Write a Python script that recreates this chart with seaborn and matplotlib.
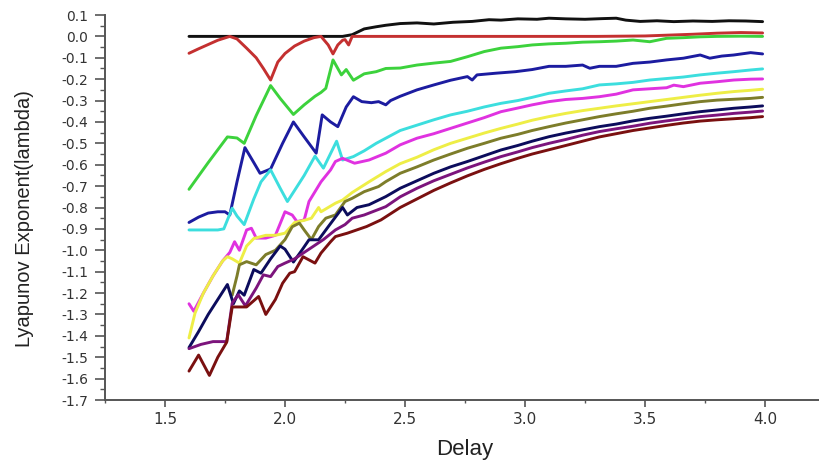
import numpy as np
import pandas as pd
import seaborn as sns
import matplotlib.pyplot as plt
from matplotlib.ticker import MultipleLocator

# Lyapunov exponent vs delay, one curve per parameter setting
black_x = [1.60, 2.00, 2.24, 2.28, 2.33, 2.38, 2.42, 2.48, 2.55, 2.62, 2.70, 2.78, 2.85, 2.90, 2.97, 3.05,
           3.10, 3.17, 3.25, 3.32, 3.38, 3.42, 3.48, 3.55, 3.62, 3.70, 3.78, 3.85, 3.92, 3.99]
black_y = [0.0, 0.0, 0.0, 0.008, 0.035, 0.045, 0.052, 0.060, 0.063, 0.058, 0.066, 0.070, 0.078, 0.076, 0.082, 0.080,
           0.085, 0.082, 0.080, 0.083, 0.085, 0.076, 0.070, 0.073, 0.069, 0.072, 0.070, 0.073, 0.072, 0.069]

red_x = [1.60, 1.64, 1.68, 1.72, 1.77, 1.80, 1.84, 1.88, 1.91, 1.94, 1.97, 2.00, 2.04, 2.08, 2.12, 2.15, 2.18,
         2.20, 2.22, 2.24, 2.25, 2.265, 2.28, 2.50, 3.00, 3.30, 3.50, 3.60, 3.70, 3.80, 3.90, 3.99]
red_y = [-0.079, -0.058, -0.038, -0.018, 0.0, -0.012, -0.055, -0.10, -0.15, -0.204, -0.12, -0.08, -0.045, -0.022,
         -0.006, 0.0, -0.04, -0.082, -0.04, -0.018, -0.015, -0.04, 0.0, 0.0, 0.0, 0.0, 0.002, 0.006, 0.01, 0.015,
         0.018, 0.016]

green_x = [1.60, 1.68, 1.76, 1.80, 1.83, 1.88, 1.94, 1.98, 2.035, 2.08, 2.125, 2.15, 2.17, 2.20, 2.235, 2.255,
           2.285, 2.33, 2.38, 2.42, 2.48, 2.55, 2.62, 2.69, 2.76, 2.83, 2.90, 2.97, 3.03, 3.10, 3.17, 3.24, 3.31,
           3.38, 3.45, 3.52, 3.59, 3.66, 3.73, 3.80, 3.90, 3.99]
green_y = [-0.715, -0.59, -0.47, -0.475, -0.50, -0.37, -0.23, -0.29, -0.365, -0.32, -0.28, -0.262, -0.243, -0.11,
           -0.18, -0.155, -0.205, -0.175, -0.165, -0.15, -0.148, -0.134, -0.125, -0.117, -0.095, -0.071, -0.055,
           -0.048, -0.04, -0.035, -0.032, -0.027, -0.025, -0.022, -0.017, -0.025, -0.009, -0.006, -0.002, 0.0,
           0.001, 0.0]

blue_x = [1.60, 1.64, 1.68, 1.72, 1.75, 1.77, 1.80, 1.833, 1.87, 1.896, 1.94, 1.99, 2.035, 2.08, 2.13, 2.155,
          2.19, 2.22, 2.255, 2.285, 2.32, 2.36, 2.39, 2.42, 2.44, 2.48, 2.55, 2.62, 2.69, 2.76, 2.78, 2.80, 2.88,
          2.96, 3.03, 3.10, 3.17, 3.24, 3.27, 3.31, 3.38, 3.45, 3.52, 3.59, 3.66, 3.73, 3.77, 3.82, 3.87, 3.94, 3.99]
blue_y = [-0.87, -0.845, -0.826, -0.82, -0.82, -0.835, -0.68, -0.52, -0.59, -0.64, -0.62, -0.50, -0.40, -0.47,
          -0.546, -0.367, -0.40, -0.422, -0.33, -0.282, -0.305, -0.31, -0.305, -0.32, -0.30, -0.28, -0.25, -0.227,
          -0.205, -0.188, -0.204, -0.18, -0.172, -0.165, -0.155, -0.14, -0.14, -0.134, -0.149, -0.14, -0.14,
          -0.126, -0.12, -0.11, -0.102, -0.087, -0.102, -0.092, -0.087, -0.076, -0.082]

cyan_x = [1.60, 1.66, 1.72, 1.745, 1.78, 1.80, 1.83, 1.87, 1.90, 1.94, 1.98, 2.01, 2.04, 2.08, 2.125, 2.16,
          2.215, 2.24, 2.285, 2.33, 2.38, 2.42, 2.48, 2.55, 2.62, 2.69, 2.76, 2.83, 2.90, 2.97, 3.03, 3.10, 3.17,
          3.24, 3.31, 3.38, 3.45, 3.52, 3.59, 3.66, 3.73, 3.80, 3.87, 3.94, 3.99]
cyan_y = [-0.905, -0.905, -0.905, -0.90, -0.803, -0.84, -0.88, -0.76, -0.68, -0.624, -0.71, -0.772, -0.72, -0.65,
          -0.56, -0.616, -0.49, -0.578, -0.562, -0.535, -0.50, -0.476, -0.44, -0.415, -0.39, -0.367, -0.35, -0.33,
          -0.313, -0.30, -0.285, -0.266, -0.255, -0.245, -0.227, -0.222, -0.215, -0.204, -0.197, -0.19, -0.18,
          -0.172, -0.165, -0.157, -0.152]

magenta_x = [1.60, 1.62, 1.66, 1.70, 1.74, 1.77, 1.79, 1.81, 1.84, 1.86, 1.88, 1.92, 1.96, 2.00, 2.03, 2.05,
             2.08, 2.10, 2.15, 2.19, 2.21, 2.24, 2.29, 2.35, 2.42, 2.48, 2.55, 2.62, 2.69, 2.76, 2.83, 2.90, 2.97,
             3.03, 3.10, 3.17, 3.24, 3.31, 3.38, 3.45, 3.52, 3.59, 3.62, 3.66, 3.73, 3.80, 3.87, 3.94, 3.99]
magenta_y = [-1.25, -1.285, -1.2, -1.12, -1.05, -1.01, -0.96, -1.0, -0.905, -0.897, -0.943, -0.943, -0.93, -0.82,
             -0.835, -0.866, -0.858, -0.772, -0.68, -0.624, -0.585, -0.57, -0.593, -0.578, -0.546, -0.507, -0.476,
             -0.455, -0.43, -0.405, -0.38, -0.352, -0.335, -0.32, -0.305, -0.295, -0.29, -0.282, -0.27, -0.25,
             -0.245, -0.24, -0.228, -0.235, -0.219, -0.212, -0.204, -0.2, -0.199]

yellow_x = [1.60, 1.625, 1.66, 1.70, 1.74, 1.76, 1.78, 1.81, 1.84, 1.87, 1.92, 1.96, 2.00, 2.04, 2.08, 2.11,
            2.14, 2.15, 2.18, 2.21, 2.24, 2.28, 2.35, 2.42, 2.48, 2.55, 2.62, 2.69, 2.76, 2.83, 2.90, 2.97, 3.03,
            3.10, 3.17, 3.24, 3.31, 3.38, 3.45, 3.52, 3.59, 3.66, 3.73, 3.80, 3.87, 3.94, 3.99]
yellow_y = [-1.41, -1.294, -1.2, -1.12, -1.05, -1.03, -1.04, -1.06, -0.98, -0.945, -0.93, -0.93, -0.92, -0.87,
            -0.86, -0.85, -0.80, -0.82, -0.80, -0.78, -0.765, -0.73, -0.68, -0.632, -0.595, -0.565, -0.53, -0.50,
            -0.476, -0.452, -0.43, -0.41, -0.392, -0.375, -0.36, -0.347, -0.336, -0.325, -0.315, -0.305, -0.295,
            -0.285, -0.275, -0.266, -0.258, -0.252, -0.247]

olive_x = [1.78, 1.80, 1.81, 1.84, 1.88, 1.92, 1.96, 2.00, 2.03, 2.06, 2.08, 2.11, 2.14, 2.17, 2.21, 2.25, 2.28,
           2.33, 2.39, 2.42, 2.48, 2.55, 2.62, 2.69, 2.76, 2.83, 2.90, 2.97, 3.03, 3.10, 3.17, 3.24, 3.31, 3.38,
           3.45, 3.52, 3.59, 3.66, 3.73, 3.80, 3.87, 3.94, 3.99]
olive_y = [-1.21, -1.12, -1.068, -1.053, -1.068, -1.02, -1.0, -0.95, -0.89, -0.873, -0.905, -0.95, -0.889, -0.85,
           -0.835, -0.772, -0.757, -0.726, -0.702, -0.679, -0.64, -0.61, -0.578, -0.55, -0.523, -0.50, -0.476,
           -0.458, -0.44, -0.422, -0.405, -0.39, -0.375, -0.362, -0.35, -0.336, -0.326, -0.315, -0.305, -0.298,
           -0.294, -0.29, -0.285]

navy_x = [1.60, 1.64, 1.68, 1.72, 1.76, 1.785, 1.81, 1.83, 1.87, 1.90, 1.94, 1.98, 2.00, 2.035, 2.07, 2.10,
          2.14, 2.18, 2.24, 2.26, 2.30, 2.35, 2.42, 2.48, 2.55, 2.62, 2.69, 2.76, 2.83, 2.90, 2.97, 3.03, 3.10,
          3.17, 3.24, 3.31, 3.38, 3.45, 3.52, 3.59, 3.66, 3.73, 3.80, 3.87, 3.94, 3.99]
navy_y = [-1.455, -1.38, -1.3, -1.23, -1.16, -1.25, -1.19, -1.21, -1.09, -1.107, -1.04, -0.98, -0.995, -1.055,
          -1.0, -0.951, -0.951, -0.89, -0.80, -0.835, -0.80, -0.787, -0.749, -0.71, -0.675, -0.64, -0.61, -0.585,
          -0.558, -0.531, -0.51, -0.49, -0.469, -0.452, -0.437, -0.422, -0.41, -0.395, -0.383, -0.373, -0.362,
          -0.352, -0.344, -0.336, -0.33, -0.325]

purple_x = [1.60, 1.65, 1.70, 1.757, 1.78, 1.805, 1.835, 1.88, 1.91, 1.94, 1.97, 2.00, 2.04, 2.08, 2.12, 2.16,
            2.21, 2.25, 2.28, 2.33, 2.42, 2.48, 2.55, 2.62, 2.69, 2.76, 2.83, 2.90, 2.97, 3.03, 3.10, 3.17, 3.24,
            3.31, 3.38, 3.45, 3.52, 3.59, 3.66, 3.73, 3.80, 3.87, 3.94, 3.99]
purple_y = [-1.46, -1.44, -1.427, -1.427, -1.247, -1.208, -1.26, -1.177, -1.115, -1.123, -1.076, -1.06, -1.04,
            -1.01, -0.98, -0.95, -0.905, -0.88, -0.85, -0.835, -0.796, -0.75, -0.71, -0.675, -0.645, -0.615,
            -0.588, -0.562, -0.54, -0.52, -0.50, -0.482, -0.462, -0.445, -0.432, -0.42, -0.406, -0.395, -0.385,
            -0.375, -0.368, -0.36, -0.354, -0.349]

wine_x = [1.60, 1.64, 1.685, 1.72, 1.757, 1.78, 1.84, 1.89, 1.92, 1.96, 1.99, 2.02, 2.04, 2.075, 2.125, 2.15,
          2.19, 2.21, 2.26, 2.34, 2.40, 2.48, 2.55, 2.62, 2.69, 2.76, 2.83, 2.90, 2.97, 3.03, 3.10, 3.17, 3.24,
          3.31, 3.38, 3.45, 3.52, 3.59, 3.66, 3.73, 3.80, 3.87, 3.94, 3.99]
wine_y = [-1.565, -1.49, -1.585, -1.50, -1.43, -1.265, -1.265, -1.216, -1.30, -1.23, -1.154, -1.107, -1.10,
          -1.03, -1.06, -1.013, -0.96, -0.936, -0.92, -0.889, -0.858, -0.80, -0.76, -0.72, -0.685, -0.652, -0.622,
          -0.595, -0.57, -0.55, -0.53, -0.51, -0.49, -0.47, -0.455, -0.44, -0.428, -0.416, -0.405, -0.396, -0.39,
          -0.385, -0.38, -0.375]

series = {
    "black": (black_x, black_y), "red": (red_x, red_y), "green": (green_x, green_y),
    "blue": (blue_x, blue_y), "cyan": (cyan_x, cyan_y), "magenta": (magenta_x, magenta_y),
    "yellow": (yellow_x, yellow_y), "olive": (olive_x, olive_y), "navy": (navy_x, navy_y),
    "purple": (purple_x, purple_y), "wine": (wine_x, wine_y),
}
colors = {
    "black": "#111111", "red": "#c43030", "green": "#3cd23c", "blue": "#1c1ca0", "cyan": "#3cdede",
    "magenta": "#e032e0", "yellow": "#eeee46", "olive": "#7d7d2a", "navy": "#0c0c5c",
    "purple": "#7c147c", "wine": "#7a1010",
}

frames = []
for name, (xs, ys) in series.items():
    frames.append(pd.DataFrame({"Delay": xs, "lambda": ys, "curve": name}))
df = pd.concat(frames, ignore_index=True)

sns.set_theme(style="ticks")
plt.rcParams["font.family"] = ["DejaVu Sans"]
plt.rcParams["axes.unicode_minus"] = False

fig = plt.figure(figsize=(8.19, 4.62), dpi=100)
ax = fig.add_axes([105 / 819, 62 / 462, 714 / 819, 385 / 462])

sns.lineplot(data=df, x="Delay", y="lambda", hue="curve", palette=colors, hue_order=list(series),
             estimator=None, sort=False, linewidth=2.1, legend=False, ax=ax)


def fmt(v, pos):
    v = round(v, 2)
    if v == 0:
        v = 0.0
    return f"{v:.1f}"


ax.set_xlim(1.25, 1.25 + 714 / 240)
ax.set_ylim(-1.7, 0.1)
ax.xaxis.set_major_locator(MultipleLocator(0.5))
ax.xaxis.set_minor_locator(MultipleLocator(0.25))
ax.yaxis.set_major_locator(MultipleLocator(0.1))
ax.yaxis.set_minor_locator(MultipleLocator(0.05))
ax.xaxis.set_major_formatter(plt.FuncFormatter(fmt))
ax.yaxis.set_major_formatter(plt.FuncFormatter(fmt))

sns.despine(ax=ax)
for s in ["left", "bottom"]:
    ax.spines[s].set_color("#555555")
    ax.spines[s].set_linewidth(1.4)
ax.tick_params(axis="y", which="major", length=7, width=1.2, color="#555555", labelsize=10,
               labelcolor="#333333", pad=5)
ax.tick_params(axis="y", which="minor", length=3.5, width=1.0, color="#555555")
ax.tick_params(axis="x", which="major", length=5, width=1.2, color="#555555", labelsize=11,
               labelcolor="#333333", pad=4)
ax.tick_params(axis="x", which="minor", length=2.5, width=1.0, color="#555555")

ax.set_xlabel("Delay", family=["Liberation Sans", "DejaVu Sans"], fontsize=16, color="#222222")
ax.set_ylabel("Lyapunov Exponent(lambda)", family=["Liberation Sans Narrow", "Liberation Sans"],
              fontsize=14.5, color="#222222")
ax.xaxis.set_label_coords(0.504, -0.10)
ax.yaxis.set_label_coords(-0.10, 0.47)

fig.savefig("out.png", dpi=100)
